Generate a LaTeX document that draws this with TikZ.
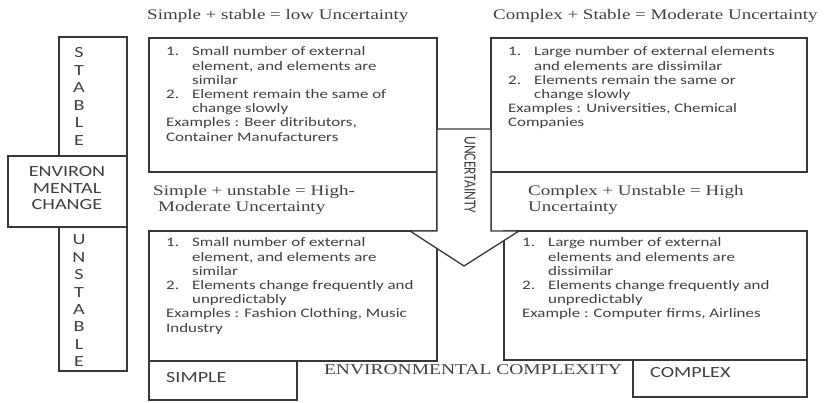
\documentclass[tikz,border=0pt]{standalone}
\usepackage{fontspec}
\usepackage{array}
\setmainfont{Liberation Serif}[FakeStretch=1.3]
\newfontfamily\bodyfont{Carlito}[FakeStretch=1.3]
\newfontfamily\plainsans{Carlito}
\definecolor{linecol}{gray}{0.22}
\definecolor{txtcol}{gray}{0.25}

% numbered list with a hanging column for the item numbers
\newcommand\itemlist[1]{\begin{tabular}[t]{@{}p{26pt}@{}l@{}}#1\end{tabular}}
\newcommand\wide[1]{\multicolumn{2}{@{}l@{}}{#1}}
% one line per entry, centred
\newcommand\letterstack[1]{\begin{tabular}[t]{@{}c@{}}#1\end{tabular}}
\newcommand\leftlines[1]{\begin{tabular}[t]{@{}l@{}}#1\end{tabular}}

\tikzset{
  box/.style={draw=linecol, line width=1.3pt},
  heading/.style={font=\fontsize{14.6}{16}\selectfont, text=txtcol, inner sep=0pt, anchor=base west},
  body/.style={font=\bodyfont\fontsize{13}{14.2}\selectfont, text=txtcol, inner sep=0pt, anchor=base west},
  tag/.style={font=\bodyfont\fontsize{15.5}{17.5}\selectfont, text=txtcol, inner sep=0pt, anchor=base},
}

\begin{document}
\begin{tikzpicture}[x=1pt,y=-1pt]
\useasboundingbox (0,0) rectangle (830,403);
\fill[white] (0,0) rectangle (830,403);

% environmental change axis
\draw[box] (59,37) rectangle (127,156);
\draw[box] (8,156) rectangle (127,227);
\draw[box] (59,227) rectangle (127,371);
\node[tag] (stable) at (79,58) {\letterstack{S\\T\\A\\B\\L\\E}};
\node[tag] (envchange) at (67,177) {\fontsize{15.5}{16.5}\selectfont\letterstack{ENVIRON\\MENTAL\\CHANGE}};
\node[tag] (unstable) at (79,245) {\fontsize{15.5}{17.4}\selectfont\letterstack{U\\N\\S\\T\\A\\B\\L\\E}};

% quadrant boxes
\draw[box] (149,38) rectangle (437,172);
\draw[box] (437,172) -- (437,231);
\draw[box] (149,231) rectangle (437,361);
\draw[box] (491,38) rectangle (807,172);
\draw[box] (491,172) -- (491,231);
\draw[box] (504,231) rectangle (807,360);

% complexity axis
\draw[box] (149,361) rectangle (297,400);
\draw[box] (633,360) rectangle (807,397);
\node[tag, anchor=base west] (simple) at (166,382) {SIMPLE};
\node[tag, anchor=base west] (complex) at (650,377) {COMPLEX};
\node[heading, anchor=base, font=\fontsize{15}{16}\selectfont] (envcomplexity) at (473,374) {ENVIRONMENTAL COMPLEXITY};

% uncertainty arrow
\draw[box, fill=white] (437,129) -- (491,129) -- (491,231) -- (519,231) -- (464,266)
  -- (410,231) -- (437,231) -- cycle;
\node[font=\plainsans\fontsize{13.5}{14}\selectfont, text=txtcol, inner sep=0pt, rotate=-90]
  (uncertainty) at (470,175) {\scalebox{1}[1.25]{UNCERTAINTY}};

% quadrant headings
\node[heading] (h1) at (147,20) {Simple + stable = low Uncertainty};
\node[heading] (h2) at (493,20) {Complex + Stable = Moderate Uncertainty};
\node[heading] (h3) at (153,196) {\leftlines{Simple + unstable = High-\\\hspace*{5pt}Moderate Uncertainty}};
\node[heading] (h4) at (528,196) {\leftlines{Complex + Unstable = High\\Uncertainty}};

% quadrant contents
\node[body] (t1) at (166,56) {\itemlist{
  1. & Small number of external\\
     & element, and elements are\\
     & similar\\
  2. & Element remain the same of\\
     & change slowly\\
  \wide{Examples : Beer ditributors,}\\
  \wide{Container Manufacturers}}};
\node[body] (t2) at (508,56) {\itemlist{
  1. & Large number of external elements\\
     & and elements are dissimilar\\
  2. & Elements remain the same or\\
     & change slowly\\
  \wide{Examples : Universities, Chemical}\\
  \wide{Companies}}};
\node[body] (t3) at (166,247) {\itemlist{
  1. & Small number of external\\
     & element, and elements are\\
     & similar\\
  2. & Elements change frequently and\\
     & unpredictably\\
  \wide{Examples : Fashion Clothing, Music}\\
  \wide{Industry}}};
\node[body] (t4) at (522,247) {\itemlist{
  1. & Large number of external\\
     & elements and elements are\\
     & dissimilar\\
  2. & Elements change frequently and\\
     & unpredictably\\
  \wide{Example : Computer firms, Airlines}}};
\end{tikzpicture}
\end{document}
